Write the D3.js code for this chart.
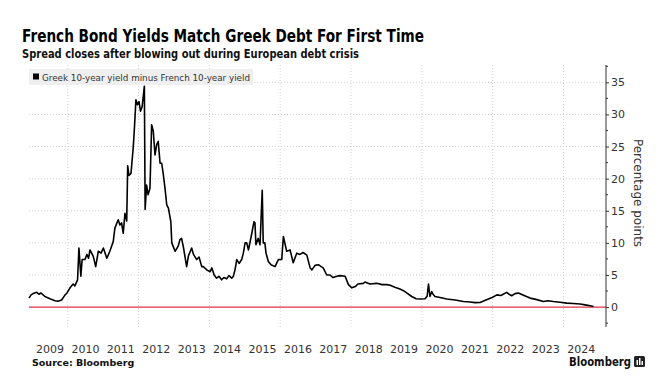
<!DOCTYPE html>
<html>
<head>
<meta charset="utf-8">
<script src="https://cdn.jsdelivr.net/npm/d3@7"></script>
<style>
  body { margin: 0; background: #fff; }
  svg { display: block; font-family: "DejaVu Sans", sans-serif; }
</style>
</head>
<body>
<svg id="chart" width="672" height="388"></svg>
<script>
// Greek 10y minus French 10y spread
const dates = [
  "2008-11-27","2008-12-18","2009-01-08","2009-02-15","2009-03-09","2009-03-29","2009-05-10","2009-07-01",
  "2009-08-22","2009-09-22","2009-10-30","2009-12-04","2009-12-24","2010-01-24","2010-02-25","2010-03-15",
  "2010-04-12","2010-04-26","2010-05-16","2010-05-29","2010-06-27","2010-07-17","2010-08-03","2010-08-18",
  "2010-09-21","2010-10-16","2010-11-12","2010-12-10","2011-01-03","2011-02-08","2011-03-11","2011-04-15",
  "2011-05-02","2011-06-05","2011-06-23","2011-07-10","2011-07-27","2011-08-14","2011-09-01","2011-09-11",
  "2011-09-24","2011-10-15","2011-11-08","2011-11-20","2011-12-05","2011-12-21","2012-01-06","2012-01-21",
  "2012-02-07","2012-02-20","2012-03-01","2012-03-09","2012-03-24","2012-04-08","2012-04-28","2012-05-15",
  "2012-06-01","2012-06-19","2012-07-06","2012-07-22","2012-08-10","2012-08-27","2012-09-13","2012-09-30",
  "2012-10-18","2012-11-04","2012-11-29","2012-12-09","2012-12-22","2013-01-12","2013-02-13","2013-03-03",
  "2013-03-20","2013-04-07","2013-05-11","2013-05-30","2013-07-02","2013-07-21","2013-08-23","2013-09-16",
  "2013-10-14","2013-10-30","2013-12-05","2014-01-08","2014-01-26","2014-02-19","2014-03-16","2014-04-10",
  "2014-05-07","2014-05-30","2014-06-28","2014-07-21","2014-08-19","2014-09-05","2014-09-22","2014-10-10",
  "2014-11-03","2014-11-30","2014-12-17","2015-01-04","2015-01-21","2015-02-08","2015-03-12","2015-04-06",
  "2015-04-16","2015-04-26","2015-05-19","2015-06-07","2015-06-30","2015-07-10","2015-07-27","2015-08-08",
  "2015-09-01","2015-09-29","2015-11-09","2015-12-13","2016-01-17","2016-02-03","2016-03-08","2016-04-12",
  "2016-05-15","2016-06-20","2016-07-23","2016-08-24","2016-10-02","2016-11-05","2016-11-23","2016-12-26",
  "2017-01-29","2017-02-27","2017-03-20","2017-04-25","2017-05-29","2017-06-29","2017-08-07","2017-09-10",
  "2017-11-01","2017-12-05","2018-01-09","2018-02-13","2018-03-13","2018-05-07","2018-05-24","2018-07-15",
  "2018-09-23","2018-11-17","2019-01-05","2019-02-09","2019-03-29","2019-05-20","2019-06-21","2019-07-29",
  "2019-09-19","2019-11-03","2019-12-14","2020-02-04","2020-02-25","2020-03-10","2020-03-25","2020-04-12",
  "2020-04-26","2020-05-16","2020-07-07","2020-09-15","2020-12-10","2021-03-04","2021-05-12","2021-07-03",
  "2021-08-24","2021-10-05","2021-11-18","2021-12-26","2022-02-14","2022-03-27","2022-05-25","2022-06-19",
  "2022-07-16","2022-08-20","2022-09-23","2022-11-21","2023-01-22","2023-03-23","2023-06-07","2023-07-25",
  "2023-09-19","2023-11-27","2024-02-05","2024-04-10","2024-06-21","2024-08-12","2024-10-03","2024-11-06"
];
const spread = [
  1.4, 1.9, 2.1, 2.3, 2.0, 2.2, 1.65, 1.3,
  1.0, 0.9, 1.1, 1.9, 2.2, 3.0, 3.6, 3.3,
  4.25, 9.2, 4.8, 7.4, 7.4, 8.2, 7.6, 8.9,
  7.9, 6.3, 8.7, 8.4, 9.2, 7.6, 8.7, 10.2,
  12.3, 13.6, 12.8, 13.1, 11.5, 14.6, 13.4, 22.0,
  20.5, 20.8, 25.0, 28.0, 32.3, 31.5, 32.0, 30.5,
  31.2, 33.0, 34.4, 15.2, 19.0, 17.5, 18.5, 28.4,
  27.4, 23.7, 25.3, 25.8, 22.4, 22.4, 20.6, 18.5,
  15.9, 15.4, 13.3, 10.0, 9.5, 8.7, 9.5, 10.5,
  10.7, 9.4, 6.3, 8.0, 9.2, 8.2, 7.4, 7.8,
  6.3, 6.3, 5.8, 5.5, 6.1, 5.0, 4.5, 4.8,
  4.25, 4.6, 4.4, 4.9, 4.5, 4.8, 5.8, 7.4,
  6.8, 7.4, 8.4, 10.0, 10.0, 8.9, 11.3, 13.3,
  13.1, 9.7, 10.7, 9.7, 18.2, 10.0, 10.0, 8.4,
  7.1, 6.6, 6.3, 7.4, 7.4, 11.0, 8.7, 8.9,
  6.9, 8.4, 8.2, 8.5, 8.1, 6.1, 5.8, 6.5,
  6.6, 6.3, 6.1, 5.0, 5.0, 4.6, 4.8, 4.9,
  4.8, 3.5, 3.0, 3.2, 3.6, 3.7, 3.9, 3.6,
  3.7, 3.5, 3.5, 3.4, 3.1, 2.8, 2.6, 2.2,
  1.65, 1.3, 1.25, 1.3, 1.7, 3.6, 1.65, 2.4,
  2.0, 1.65, 1.5, 1.25, 1.1, 0.87, 0.8, 0.7,
  0.72, 1.0, 1.25, 1.5, 1.9, 1.8, 2.3, 2.0,
  1.76, 2.1, 2.2, 1.8, 1.4, 1.2, 0.87, 1.0,
  0.87, 0.75, 0.62, 0.55, 0.47, 0.35, 0.2, 0.1
];
const yearLabels = [2009,2010,2011,2012,2013,2014,2015,2016,2017,2018,2019,2020,2021,2022,2023,2024];
const gridYears = [2010,2012,2014,2016,2018,2020,2022,2024];
const yTicks = [0,5,10,15,20,25,30,35];

const parse = d3.timeParse("%Y-%m-%d");
const data = dates.map((d, i) => ({date: parse(d), value: spread[i]}));

const svg = d3.select("#chart");
const plotLeft = 29, plotRight = 606, plotTop = 65, plotBottom = 327;

const x = d3.scaleTime()
  .domain([parse("2008-11-27"), parse("2025-03-15")])
  .range([plotLeft, plotRight]);
const y = d3.scaleLinear()
  .domain([-3.1, 37.7])
  .range([plotBottom, plotTop]);

// title block
svg.append("text").attr("x", 22).attr("y", 42)
  .attr("font-size", 18.5).attr("font-weight", "bold").attr("fill", "#000")
  .attr("textLength", 402).attr("lengthAdjust", "spacingAndGlyphs")
  .text("French Bond Yields Match Greek Debt For First Time");
svg.append("text").attr("x", 22).attr("y", 58)
  .attr("font-size", 12.5).attr("font-weight", "bold").attr("fill", "#111")
  .attr("textLength", 337).attr("lengthAdjust", "spacingAndGlyphs")
  .text("Spread closes after blowing out during European debt crisis");

// gridlines
svg.append("g").selectAll("line")
  .data(yTicks.filter(d => d > 0))
  .join("line")
  .attr("x1", plotLeft).attr("x2", plotRight)
  .attr("y1", d => y(d)).attr("y2", d => y(d))
  .attr("stroke", "#d4d4d4").attr("stroke-dasharray", "1,2");
svg.append("g").selectAll("line")
  .data(gridYears)
  .join("line")
  .attr("x1", d => x(new Date(d, 0, 1))).attr("x2", d => x(new Date(d, 0, 1)))
  .attr("y1", plotTop).attr("y2", plotBottom)
  .attr("stroke", "#d4d4d4").attr("stroke-dasharray", "1,2");

// legend
svg.append("rect").attr("x", 29).attr("y", 69).attr("width", 224).attr("height", 16)
  .attr("fill", "#efefef");
svg.append("rect").attr("x", 33).attr("y", 73.5).attr("width", 6).attr("height", 6).attr("fill", "#000");
svg.append("text").attr("x", 42).attr("y", 80.5)
  .attr("font-size", 9.5).attr("fill", "#333")
  .attr("textLength", 208).attr("lengthAdjust", "spacingAndGlyphs")
  .text("Greek 10-year yield minus French 10-year yield");

// zero line
svg.append("line")
  .attr("x1", plotLeft).attr("x2", plotRight)
  .attr("y1", y(0)).attr("y2", y(0))
  .attr("stroke", "#e0304a").attr("stroke-width", 1.2);

// series
svg.append("path")
  .datum(data)
  .attr("fill", "none")
  .attr("stroke", "#000")
  .attr("stroke-width", 1.6)
  .attr("stroke-linejoin", "round")
  .attr("d", d3.line().x(d => x(d.date)).y(d => y(d.value)));

// right axis
const yAxis = svg.append("g")
  .attr("transform", `translate(${plotRight},0)`)
  .call(d3.axisRight(y).tickValues(yTicks).tickSize(3).tickPadding(2));
yAxis.select(".domain").attr("d", `M0,${plotTop}V${plotBottom}`).attr("stroke", "#333");
yAxis.selectAll(".tick line").attr("stroke", "#333");
yAxis.selectAll("text").attr("font-size", 11).attr("fill", "#333")
  .attr("font-family", "'DejaVu Sans', sans-serif");
svg.append("g")
  .attr("transform", `translate(${plotRight},0)`)
  .selectAll("line")
  .data(d3.range(-2.5, 37.6, 5))
  .join("line")
  .attr("x1", 0).attr("x2", 2)
  .attr("y1", d => y(d)).attr("y2", d => y(d))
  .attr("stroke", "#333");

svg.append("text")
  .attr("transform", `translate(634,${(plotTop + plotBottom) / 2 - 3}) rotate(90)`)
  .attr("text-anchor", "middle")
  .attr("font-size", 12).attr("fill", "#333")
  .text("Percentage points");

// year labels centred in each year
svg.append("g").selectAll("text")
  .data(yearLabels)
  .join("text")
  .attr("x", d => x(new Date(d, 6, 2)))
  .attr("y", 353)
  .attr("text-anchor", "middle")
  .attr("font-size", 11).attr("fill", "#333")
  .text(d => d);

// footer
svg.append("text").attr("x", 32).attr("y", 366)
  .attr("font-size", 9.5).attr("font-weight", "bold").attr("fill", "#111")
  .text("Source: Bloomberg");
svg.append("text").attr("x", 631).attr("y", 366)
  .attr("text-anchor", "end")
  .attr("font-size", 12).attr("font-weight", "bold").attr("fill", "#111")
  .attr("textLength", 62).attr("lengthAdjust", "spacingAndGlyphs")
  .text("Bloomberg");
const logo = svg.append("g").attr("transform", "translate(634,356)");
logo.append("rect").attr("width", 11).attr("height", 11).attr("rx", 1.5).attr("fill", "#222");
logo.append("rect").attr("x", 2.5).attr("y", 4).attr("width", 1.5).attr("height", 5).attr("fill", "#fff");
logo.append("rect").attr("x", 5).attr("y", 2).attr("width", 1.5).attr("height", 7).attr("fill", "#fff");
logo.append("rect").attr("x", 7.5).attr("y", 5).attr("width", 1.5).attr("height", 4).attr("fill", "#fff");
</script>
</body>
</html>
